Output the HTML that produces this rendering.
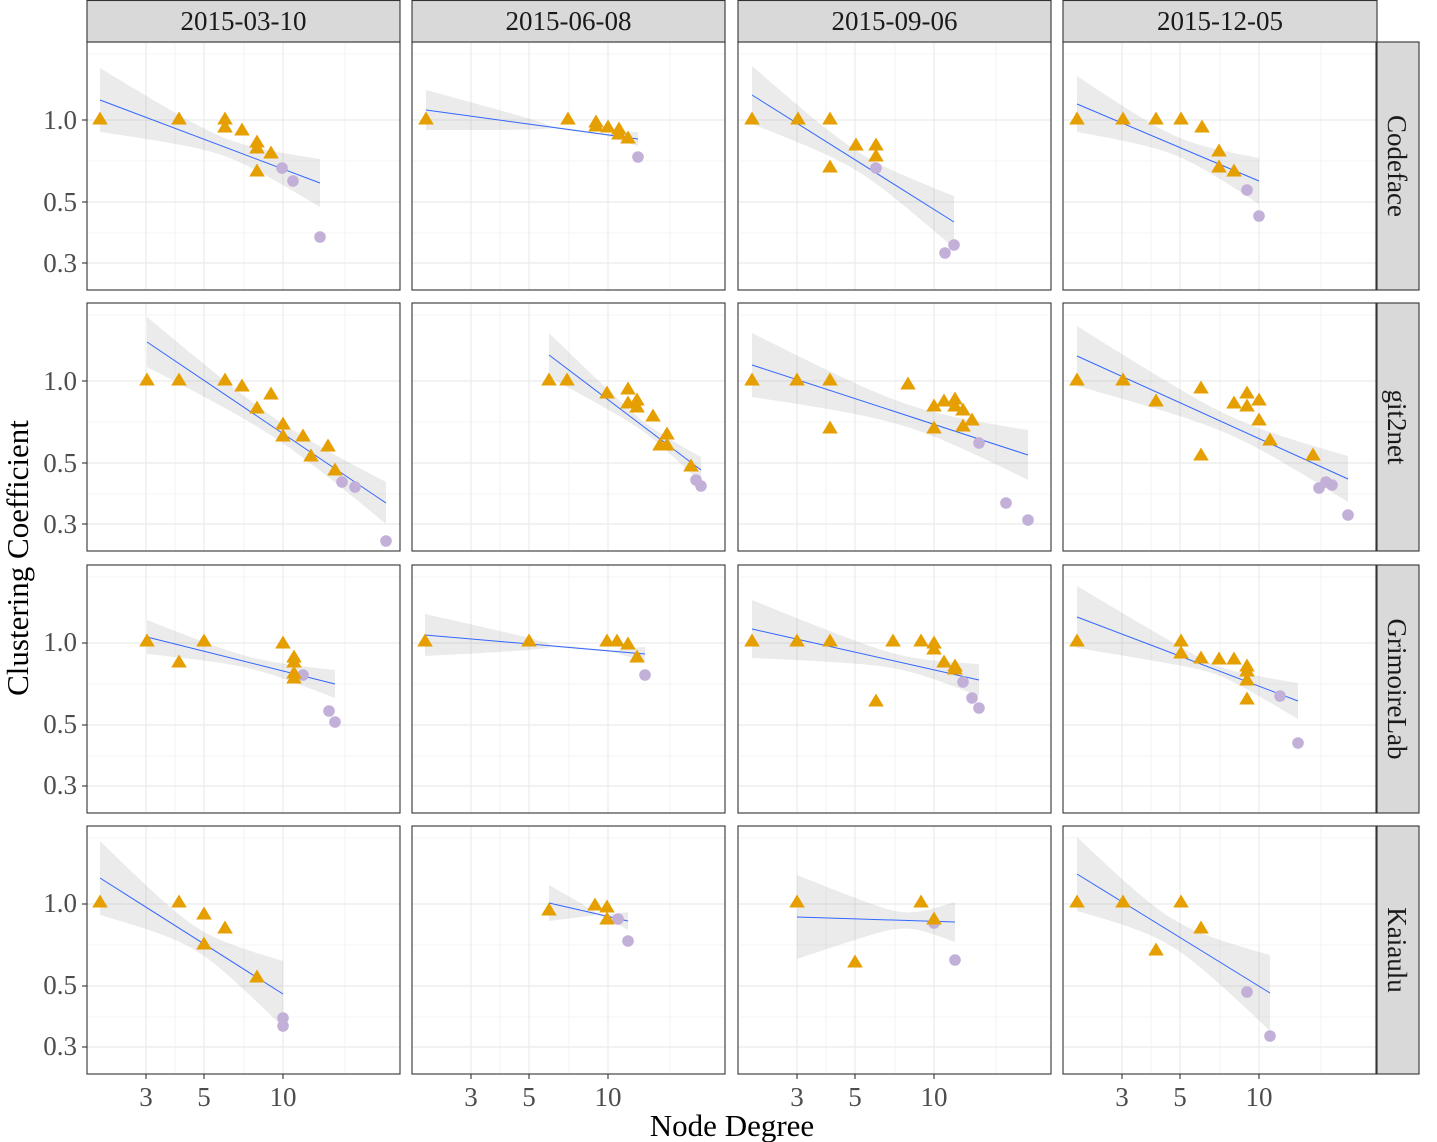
<!DOCTYPE html>
<html><head><meta charset="utf-8">
<style>
html,body{margin:0;padding:0;background:#fff;}
svg{display:block;}
text{font-family:"Liberation Serif",serif;}
</style></head>
<body>
<svg id="s" width="1437" height="1142" viewBox="0 0 1437 1142" xmlns="http://www.w3.org/2000/svg">
<g id="panels"></g>
<g fill="#d9d9d9" stroke="#333" stroke-width="1.1">
<rect x="87" y="0.5" width="313" height="41.5"/>
<rect x="412" y="0.5" width="313" height="41.5"/>
<rect x="738" y="0.5" width="313" height="41.5"/>
<rect x="1063" y="0.5" width="314" height="41.5"/>
<rect x="1377" y="42" width="42" height="248"/>
<rect x="1377" y="303" width="42" height="248"/>
<rect x="1377" y="565" width="42" height="248"/>
<rect x="1377" y="826" width="42" height="248"/>
</g>
<g font-size="27" fill="#1a1a1a" text-anchor="middle">
<text x="243.5" y="30">2015-03-10</text>
<text x="568.5" y="30">2015-06-08</text>
<text x="894.5" y="30">2015-09-06</text>
<text x="1220" y="30">2015-12-05</text>
<text transform="translate(1388,166) rotate(90)">Codeface</text>
<text transform="translate(1388,427) rotate(90)">git2net</text>
<text transform="translate(1388,689) rotate(90)">GrimoireLab</text>
<text transform="translate(1388,950) rotate(90)">Kaiaulu</text>
</g>
<g font-size="27" fill="#4d4d4d" text-anchor="end">
<text x="77" y="129">1.0</text><text x="77" y="211">0.5</text><text x="77" y="272">0.3</text>
<text x="77" y="390">1.0</text><text x="77" y="472">0.5</text><text x="77" y="533">0.3</text>
<text x="77" y="651">1.0</text><text x="77" y="733">0.5</text><text x="77" y="794">0.3</text>
<text x="77" y="912">1.0</text><text x="77" y="994">0.5</text><text x="77" y="1055">0.3</text>
</g>
<g font-size="27" fill="#4d4d4d" text-anchor="middle">
<text x="146" y="1106">3</text><text x="204" y="1106">5</text><text x="283" y="1106">10</text>
<text x="471" y="1106">3</text><text x="529" y="1106">5</text><text x="608" y="1106">10</text>
<text x="797" y="1106">3</text><text x="855" y="1106">5</text><text x="934" y="1106">10</text>
<text x="1122" y="1106">3</text><text x="1180" y="1106">5</text><text x="1259" y="1106">10</text>
</g>
<text x="732" y="1136" font-size="31" fill="#000" text-anchor="middle">Node Degree</text>
<text transform="translate(28,558) rotate(-90)" font-size="31" fill="#000" text-anchor="middle">Clustering Coefficient</text>
</svg>
<script>
(function(){
var NS="http://www.w3.org/2000/svg";
var g=document.getElementById("panels");
var cols=[87,412,738,1063], rows=[42,303,565,826], W=313, H=248;
var P=[
{t:[[13,77],[92,77],[138,77],[138,85],[155,88],[170,100],[170,106],[184,111],[170,129]],c:[[195,126],[206,139],[233,195]],l:[13,58,233,141],w:[32,10,24]},
{t:[[14,77],[156,77],[184,80],[184,84],[196,85],[207,87],[207,92],[216,96]],c:[[226,115]],l:[14,68,226,97],w:[20,5,7]},
{t:[[14,77],[60,77],[92,77],[118,103],[138,103],[138,114],[92,125]],c:[[138,126],[216,203],[207,211]],l:[14,53,216,180],w:[29,10,26]},
{t:[[14,77],[60,77],[93,77],[118,77],[139,85],[156,109],[156,125],[171,129]],c:[[184,148],[196,174]],l:[14,62,196,139],w:[28,10,23]},
{t:[[60,77],[92,77],[138,77],[155,83],[184,91],[170,105],[196,121],[196,133],[216,133],[241,143],[224,153],[248,167]],c:[[255,179],[268,184],[299,238]],l:[60,39,299,200],w:[25,10,21]},
{t:[[137,77],[155,77],[195,90],[216,86],[225,97],[216,100],[225,104],[241,113],[255,131],[248,142],[255,142],[279,163]],c:[[284,177],[289,183]],l:[137,52,289,167],w:[22,7,13]},
{t:[[14,77],[59,77],[92,77],[170,81],[196,103],[206,98],[217,96],[217,103],[225,107],[234,117],[225,123],[196,125],[92,125]],c:[[241,140],[268,200],[290,217]],l:[14,62,290,152],w:[32,12,25]},
{t:[[14,77],[60,77],[93,98],[138,85],[171,100],[184,90],[184,103],[196,97],[196,117],[207,137],[250,152],[138,152]],c:[[256,185],[263,179],[269,182],[285,212]],l:[14,53,285,176],w:[30,10,23]},
{t:[[60,76],[92,97],[117,76],[196,78],[207,92],[207,97],[207,108],[207,113]],c:[[216,110],[242,146],[248,157]],l:[60,72,248,119],w:[17,6,14]},
{t:[[13,76],[117,76],[195,76],[205,76],[216,79],[225,92]],c:[[233,110]],l:[13,70,233,89],w:[21,5,7]},
{t:[[14,76],[59,76],[92,76],[155,76],[183,76],[196,78],[196,84],[206,97],[217,101],[217,104],[138,136]],c:[[225,117],[234,133],[241,143]],l:[14,64,241,115],w:[29,10,16]},
{t:[[14,76],[118,76],[118,88],[138,93],[156,94],[171,94],[184,101],[184,106],[184,115],[184,134]],c:[[217,131],[235,178]],l:[14,52,235,136],w:[31,8,18]},
{t:[[13,76],[92,76],[117,88],[138,102],[117,118],[170,151]],c:[[196,192],[196,200]],l:[13,52,196,168],w:[37,12,33]},
{t:[[137,84],[183,79],[195,81],[195,93]],c:[[206,93],[216,115]],l:[137,77,216,95],w:[18,4,9]},
{t:[[59,76],[183,76],[196,93],[117,136]],c:[[196,97],[217,134]],l:[59,91,217,96],w:[42,14,20]},
{t:[[14,76],[60,76],[118,76],[138,102],[93,124]],c:[[184,166],[207,210]],l:[14,48,207,167],w:[37,14,38]}
];
function el(n,a,p){var e=document.createElementNS(NS,n);for(var k in a)e.setAttribute(k,a[k]);(p||g).appendChild(e);return e;}
for(var r=0;r<4;r++)for(var c=0;c<4;c++){
 var X=cols[c],Y=rows[r],d=P[r*4+c];
 var gg=el("g",{transform:"translate("+X+","+Y+")"});
 el("rect",{x:0,y:0,width:W,height:H,fill:"#fff"},gg);
 [12,119,191].forEach(function(v){el("line",{x1:0,x2:W,y1:v,y2:v,stroke:"#ebebeb","stroke-width":0.6},gg);});
 [88,157,258].forEach(function(v){el("line",{y1:0,y2:H,x1:v,x2:v,stroke:"#ebebeb","stroke-width":0.6},gg);});
 [78,160,221].forEach(function(v){el("line",{x1:0,x2:W,y1:v,y2:v,stroke:"#ebebeb","stroke-width":1.2},gg);});
 [59,117,196].forEach(function(v){el("line",{y1:0,y2:H,x1:v,x2:v,stroke:"#ebebeb","stroke-width":1.2},gg);});
 var L=d.l,w=d.w,a0=w[0]*w[0],a1=w[1]*w[1],a2=w[2]*w[2];
 var top=[],bot=[];
 for(var i=0;i<=40;i++){var t=i/40;
  var w2=a0*(1-t)*(1-2*t)+a1*4*t*(1-t)+a2*t*(2*t-1); if(w2<1)w2=1; var hw=Math.sqrt(w2);
  var x=L[0]+(L[2]-L[0])*t,y=L[1]+(L[3]-L[1])*t;
  top.push(x.toFixed(1)+","+(y-hw).toFixed(1));bot.unshift(x.toFixed(1)+","+(y+hw).toFixed(1));}
 el("polygon",{points:top.concat(bot).join(" "),fill:"#999","fill-opacity":0.2},gg);
 el("line",{x1:L[0],y1:L[1],x2:L[2],y2:L[3],stroke:"#3366ff","stroke-width":1},gg);
 d.c.forEach(function(p){el("circle",{cx:p[0],cy:p[1],r:5.8,fill:"#c2b0d8"},gg);});
 d.t.forEach(function(p){var x=p[0],y=p[1];
  el("polygon",{points:(x)+","+(y-7.5)+" "+(x-7.8)+","+(y+5.5)+" "+(x+7.8)+","+(y+5.5),fill:"#e69f00"},gg);});
 el("rect",{x:0,y:0,width:W,height:H,fill:"none",stroke:"#333","stroke-width":1.1},gg);
 if(c==0)[78,160,221].forEach(function(v){el("line",{x1:-5,x2:0,y1:v,y2:v,stroke:"#333","stroke-width":1.1},gg);});
 if(r==3)[59,117,196].forEach(function(v){el("line",{x1:v,x2:v,y1:H,y2:H+5,stroke:"#333","stroke-width":1.1},gg);});
}
})();
</script>
</body></html>
